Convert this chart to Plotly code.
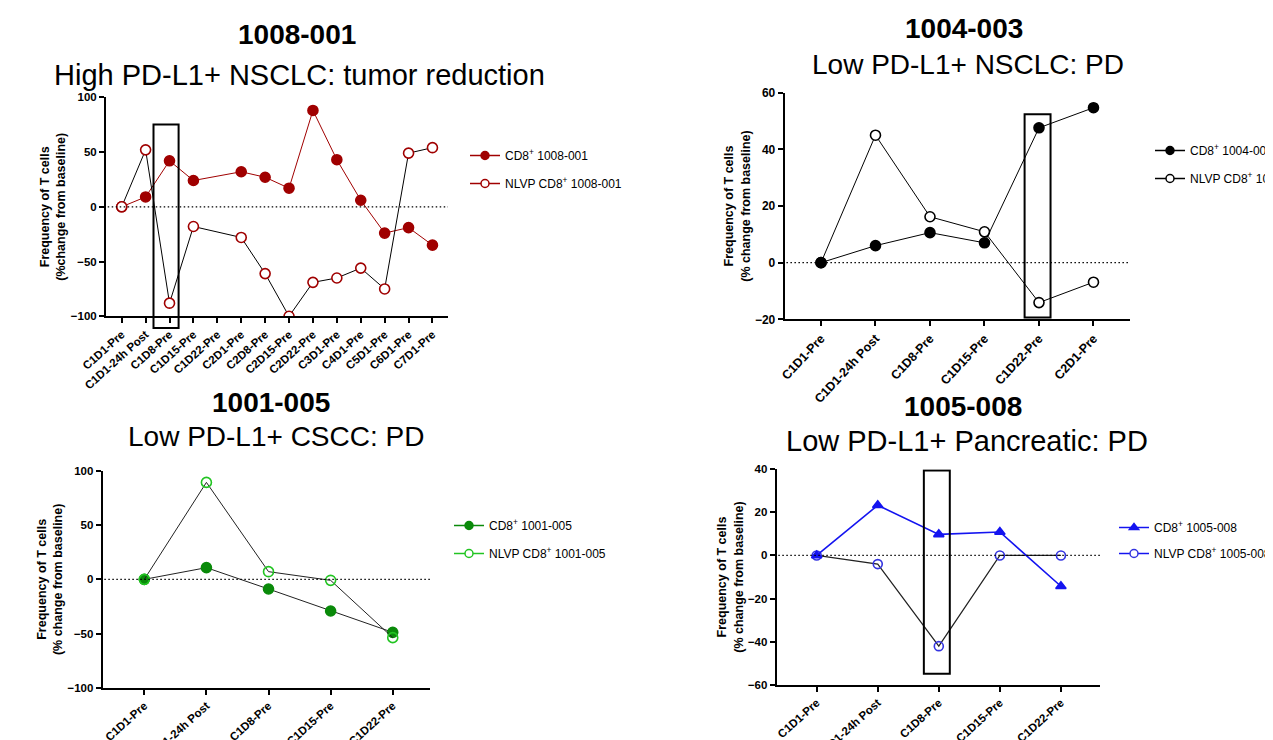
import plotly.graph_objects as go

# ---------------- data ----------------
cats_1008 = ["C1D1-Pre", "C1D1-24h Post", "C1D8-Pre", "C1D15-Pre", "C1D22-Pre", "C2D1-Pre",
             "C2D8-Pre", "C2D15-Pre", "C2D22-Pre", "C3D1-Pre", "C4D1-Pre", "C5D1-Pre",
             "C6D1-Pre", "C7D1-Pre"]
cd8_1008 = [0, 9, 42, 24, None, 32, 27, 17, 88, 43, 6, -24, -19, -35]
nlvp_1008 = [0, 52, -88, -18, None, -28, -61, -100, -69, -65, -56, -75, 49, 54]

cats_1004 = ["C1D1-Pre", "C1D1-24h Post", "C1D8-Pre", "C1D15-Pre", "C1D22-Pre", "C2D1-Pre"]
cd8_1004 = [0, 6, 10.6, 7, 47.6, 54.7]
nlvp_1004 = [0, 45, 16.2, 10.9, -14.1, -6.9]

cats_1001 = ["C1D1-Pre", "C1D1-24h Post", "C1D8-Pre", "C1D15-Pre", "C1D22-Pre"]
cd8_1001 = [0, 10.8, -8.9, -29.2, -48.9]
nlvp_1001 = [0, 89.5, 7.1, -0.9, -53.8]

cats_1005 = ["C1D1-Pre", "C1D1-24h Post", "C1D8-Pre", "C1D15-Pre", "C1D22-Pre"]
cd8_1005 = [0, 23.3, 9.8, 10.9, -14.3]
nlvp_1005 = [0, -4, -42.1, 0, 0]

titles = ["1008-001", "1004-003", "1001-005", "1005-008"]
subtitles = ["High PD-L1+ NSCLC: tumor reduction", "Low PD-L1+ NSCLC: PD",
             "Low PD-L1+ CSCC: PD", "Low PD-L1+ Pancreatic: PD"]

# ---------------- styling ----------------
OFF = 8  # page body margin
W, H = 1265, 732
FONT = "Arial, 'Liberation Sans', sans-serif"
RED = "#A00000"
GREEN_D = "#0A8A0A"
GREEN_L = "#22C422"
BLUE = "#1414F0"
BLUE_O = "#3434E0"


def px_x(p):
    return (p - OFF) / W


def px_y(p):
    return 1 - (p - OFF) / H


fig = go.Figure()


def data_trace(x, y, ax, symbol, mcolor, mline, lcolor, lwidth, size):
    return go.Scatter(
        x=x, y=y, mode="lines+markers", showlegend=False, connectgaps=True,
        xaxis="x" + ax, yaxis="y" + ax, hoverinfo="x+y",
        marker=dict(symbol=symbol, size=size, color=mcolor, line=dict(color=mline, width=1.6)),
        line=dict(color=lcolor, width=lwidth),
    )


def legend_trace(name, ax, leg, group, symbol, mcolor, mline, lcolor):
    return go.Scatter(
        x=[None], y=[None], mode="lines+markers", name=name, legend=leg, legendgroup=group,
        xaxis="x" + ax, yaxis="y" + ax,
        marker=dict(symbol=symbol, size=8, color=mcolor, line=dict(color=mline, width=1.5)),
        line=dict(color=lcolor, width=1.5),
    )


# Panel 1 : 1008-001 (open on top)
fig.add_trace(data_trace(cats_1008, cd8_1008, "", "circle", RED, RED, RED, 1, 10))
fig.add_trace(data_trace(cats_1008, nlvp_1008, "", "circle", "white", RED, "black", 1, 10))
fig.add_trace(legend_trace("CD8<sup>+</sup> 1008-001", "", "legend", "a1", "circle", RED, RED, RED))
fig.add_trace(legend_trace("NLVP CD8<sup>+</sup> 1008-001", "", "legend", "b1", "circle", "white", RED, RED))

# Panel 2 : 1004-003 (filled on top)
fig.add_trace(data_trace(cats_1004, nlvp_1004, "2", "circle", "white", "black", "black", 1, 10))
fig.add_trace(data_trace(cats_1004, cd8_1004, "2", "circle", "black", "black", "black", 1, 10))
fig.add_trace(legend_trace("CD8<sup>+</sup> 1004-003", "2", "legend2", "a2", "circle", "black", "black", "black"))
fig.add_trace(legend_trace("NLVP CD8<sup>+</sup> 1004-003", "2", "legend2", "b2", "circle", "white", "black", "black"))

# Panel 3 : 1001-005
fig.add_trace(data_trace(cats_1001, cd8_1001, "3", "circle", GREEN_D, GREEN_D, "#222222", 1, 10))
fig.add_trace(data_trace(cats_1001, nlvp_1001, "3", "circle-open", GREEN_L, GREEN_L, "#222222", 1, 10))
fig.add_trace(legend_trace("CD8<sup>+</sup> 1001-005", "3", "legend3", "a3", "circle", GREEN_D, GREEN_D, GREEN_D))
fig.add_trace(legend_trace("NLVP CD8<sup>+</sup> 1001-005", "3", "legend3", "b3", "circle", "white", GREEN_L, GREEN_L))

# Panel 4 : 1005-008
fig.add_trace(data_trace(cats_1005, nlvp_1005, "4", "circle-open", BLUE_O, BLUE_O, "#222222", 1.2, 9))
fig.add_trace(data_trace(cats_1005, cd8_1005, "4", "triangle-up", BLUE, BLUE, BLUE, 1.6, 9))
fig.add_trace(legend_trace("CD8<sup>+</sup> 1005-008", "4", "legend4", "a4", "triangle-up", BLUE, BLUE, BLUE))
fig.add_trace(legend_trace("NLVP CD8<sup>+</sup> 1005-008", "4", "legend4", "b4", "circle", "white", BLUE_O, BLUE))

# ---------------- axes ----------------
panels = [
    # suffix, cats, x px range, y px (top, bottom), x range, y range, dtick, ytitle,
    # x tick size, angle, y tick size
    ("", cats_1008, (106, 448), (97.3, 316.3), [-0.657, 13.65], [-100, 100], 50,
     "Frequency of T cells<br>(%change from baseline)", 11.5, -42, 11.5),
    ("2", cats_1004, (784.7, 1130), (92.7, 319.3), [-0.666, 5.67], [-20, 60], 20,
     "Frequency of T cells<br>(% change from baseline)", 12.5, -47, 12),
    ("3", cats_1001, (102.7, 430), (471, 687.7), [-0.67, 4.6], [-100, 100], 50,
     "Frequency of T cells<br>(% change from baseline)", 11.5, -42, 11.5),
    ("4", cats_1005, (776.7, 1100), (469.3, 684.7), [-0.655, 4.64], [-60, 40], 20,
     "Frequency of T cells<br>(% change from baseline)", 11.5, -42, 11.5),
]

axis_common = dict(showline=True, linecolor="black", linewidth=2, ticks="outside",
                   ticklen=5, tickwidth=2, tickcolor="black", showgrid=False, zeroline=False)

layout = {}
for suf, cats, (xl, xr), (yt, yb), xr_, yr_, dt, ytitle, xfs, ang, yfs in panels:
    layout["xaxis" + suf] = dict(
        axis_common, domain=[px_x(xl), px_x(xr)], anchor="y" + suf, type="category",
        categoryorder="array", categoryarray=cats, range=xr_, tickangle=ang,
        tickfont=dict(family=FONT, size=xfs, color="black", weight="bold"),
    )
    layout["yaxis" + suf] = dict(
        axis_common, domain=[px_y(yb), px_y(yt)], anchor="x" + suf, range=yr_, dtick=dt,
        tick0=0, tickfont=dict(family=FONT, size=yfs, color="black", weight="bold"),
        title=dict(text=ytitle, standoff=2,
                   font=dict(family=FONT, size=12.5, color="black", weight="bold")),
    )

# zero dotted lines and highlight boxes
shapes = []
for suf in ["", "2", "3", "4"]:
    shapes.append(dict(type="line", xref=("x" + suf + " domain"), yref="y" + suf,
                       x0=0.005, x1=1, y0=0, y1=0,
                       line=dict(color="black", width=1.2, dash="1.5px,2.5px")))
# panel 1 box extends below the axis, so it is placed in page units (not clipped)
shapes.append(dict(type="rect", xref="x", yref="paper", x0=1.33, x1=2.38,
                   y0=px_y(328), y1=px_y(124.5),
                   line=dict(color="black", width=2), fillcolor="rgba(0,0,0,0)"))
boxes = [("2", 3.736, 4.212, -19.4, 52.4), ("4", 1.755, 2.18, -54.9, 39.4)]
for suf, x0, x1, y0, y1 in boxes:
    shapes.append(dict(type="rect", xref="x" + suf, yref="y" + suf, x0=x0, x1=x1, y0=y0, y1=y1,
                       line=dict(color="black", width=2), fillcolor="rgba(0,0,0,0)"))

# titles
annotations = []
title_pos = [((296.7, 35), (299, 74.5), 29), ((964, 28.3), (968.3, 64.7), 28),
             ((270.8, 402), (275.8, 436.7), 28), ((962.5, 406.7), (967.5, 440.8), 29)]
for t, s, ((bx, by), (sx, sy), fs) in zip(titles, subtitles, title_pos):
    annotations.append(dict(text=t, x=px_x(bx), y=px_y(by), xref="paper", yref="paper",
                            xanchor="center", yanchor="middle", showarrow=False,
                            font=dict(family=FONT, size=28, color="black", weight="bold")))
    annotations.append(dict(text=s, x=px_x(sx), y=px_y(sy), xref="paper", yref="paper",
                            xanchor="center", yanchor="middle", showarrow=False,
                            font=dict(family=FONT, size=fs, color="black")))

# legends
leg_common = dict(xref="paper", yref="paper", xanchor="left", yanchor="top",
                  bgcolor="rgba(0,0,0,0)", traceorder="grouped", itemclick=False,
                  font=dict(family=FONT, size=12, color="black"))
legend_pos = {"legend": (465, 141, 9), "legend2": (1150, 136, 9),
              "legend3": (449, 511, 9), "legend4": (1114, 513, 7)}
for name, (lx, ly, gap) in legend_pos.items():
    layout[name] = dict(leg_common, x=px_x(lx), y=px_y(ly), tracegroupgap=gap)

fig.update_layout(
    **layout,
    shapes=shapes,
    annotations=annotations,
    width=W, height=H,
    margin=dict(l=0, r=0, t=0, b=0, autoexpand=False),
    plot_bgcolor="white", paper_bgcolor="white",
    font=dict(family=FONT, color="black"),
)

fig.write_html("out.html")
